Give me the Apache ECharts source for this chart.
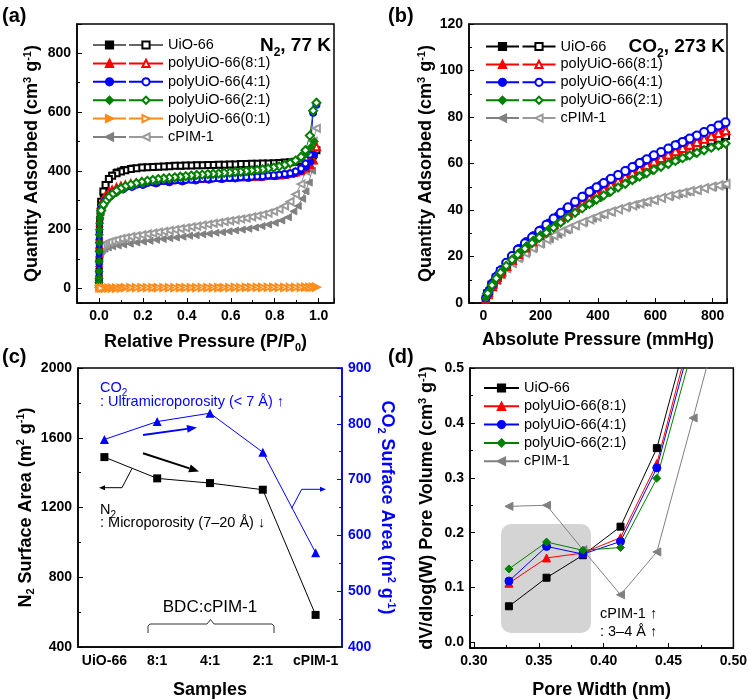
<!DOCTYPE html>
<html>
<head>
<meta charset="utf-8">
<script src="https://cdn.jsdelivr.net/npm/echarts@6/dist/echarts.min.js"></script>
<style>html,body{margin:0;padding:0;background:#fff}#main{width:750px;height:700px}</style>
</head>
<body>
<div id="main"></div>
<script>
var FONT = 'Arial, "Liberation Sans", sans-serif';

// (a) N2 isotherms, 77 K
var pAds = [0.00001, 0.00003, 0.00006, 0.0001, 0.0002, 0.0004, 0.0007, 0.001, 0.0015, 0.002,
  0.003, 0.005, 0.008, 0.012, 0.02, 0.03, 0.045, 0.06, 0.08, 0.11,
  0.15, 0.2, 0.26, 0.32, 0.38, 0.44, 0.5, 0.56, 0.62, 0.68,
  0.74, 0.8, 0.85, 0.89, 0.92, 0.945, 0.965, 0.98];
var pAdsPim = [0.00001, 0.00003, 0.0001, 0.0003, 0.001, 0.002, 0.004, 0.008, 0.015, 0.025,
  0.04, 0.06, 0.085, 0.11, 0.14, 0.17, 0.2, 0.23, 0.26, 0.29,
  0.32, 0.35, 0.38, 0.41, 0.44, 0.47, 0.5, 0.53, 0.56, 0.59,
  0.62, 0.65, 0.68, 0.71, 0.74, 0.77, 0.8, 0.83, 0.86, 0.885,
  0.905, 0.925, 0.94, 0.955, 0.97];
var pDes = [0.99, 0.975, 0.96, 0.94, 0.92, 0.895, 0.87, 0.845, 0.82, 0.795,
  0.77, 0.745, 0.72, 0.695, 0.67, 0.645, 0.62, 0.595, 0.57, 0.545,
  0.52, 0.495, 0.47, 0.445, 0.42, 0.395, 0.37, 0.345, 0.32, 0.295,
  0.27, 0.245, 0.22, 0.195, 0.17, 0.145, 0.12, 0.1, 0.08, 0.06,
  0.045, 0.03, 0.02, 0.01];
var n2UioAds = [3, 10, 20, 35, 60, 95, 130, 160, 190, 210, 235, 258, 275, 292, 320, 345, 370, 385, 396, 404,
  409, 412, 414, 416, 417, 418, 419, 420, 421, 422, 423, 425, 427, 430, 434, 440, 447, 455];
var n2P81Ads = [2, 8, 17, 30, 52, 85, 118, 148, 176, 196, 222, 244, 260, 272, 290, 305, 318, 326, 334, 342,
  349, 355, 360, 364, 367, 370, 372, 374, 376, 378, 380, 383, 387, 392, 398, 408, 420, 435];
var n2P41Ads = [2, 8, 16, 28, 50, 82, 115, 145, 172, 192, 218, 240, 256, 268, 285, 298, 310, 318, 326, 335,
  343, 350, 355, 359, 362, 365, 368, 370, 372, 374, 377, 380, 384, 390, 398, 412, 430, 455];
var n2P21Ads = [3, 10, 20, 34, 58, 92, 126, 155, 182, 200, 222, 240, 254, 266, 280, 292, 305, 315, 325, 337,
  348, 357, 365, 372, 378, 383, 388, 392, 396, 401, 406, 412, 420, 430, 442, 458, 480, 500];
var n2P01Ads = [0, 0, 0, 0, 1, 1, 1, 1, 1, 1, 1, 1, 1, 1, 1, 1, 1, 2, 2, 2,
  2, 2, 2, 2, 2, 2, 2, 2, 2, 3, 3, 3, 3, 3, 3, 3, 3, 4];
var n2PimAds = [5, 15, 35, 60, 90, 106, 117, 125, 131, 135, 139, 143, 146, 149, 152, 156, 159, 162, 165, 168,
  171, 173, 176, 179, 181, 184, 186, 189, 191, 194, 197, 200, 203, 207, 212, 217, 223, 231, 242, 262,
  280, 305, 330, 360, 400];
var n2UioDes = [470, 452, 444, 438, 434, 431, 429, 428, 427, 426, 425, 425, 424, 424, 423, 423, 422, 422, 421, 421,
  420, 420, 419, 419, 418, 418, 417, 417, 416, 415, 414, 413, 412, 411, 409, 406, 402, 398, 392, 383,
  372, 352, 330, 295];
var n2P81Des = [482, 460, 440, 420, 405, 396, 391, 388, 386, 385, 384, 383, 382, 381, 380, 380, 379, 378, 378, 377,
  377, 376, 375, 375, 374, 373, 372, 371, 370, 369, 368, 366, 364, 362, 359, 356, 352, 348, 343, 335,
  327, 315, 303, 285];
var n2P41Des = [625, 598, 455, 425, 408, 398, 392, 389, 387, 385, 384, 382, 381, 380, 379, 378, 377, 376, 376, 375,
  374, 373, 372, 371, 370, 369, 368, 367, 366, 365, 363, 361, 359, 356, 353, 349, 344, 339, 332, 322,
  312, 298, 287, 270];
var n2P21Des = [632, 605, 520, 470, 448, 435, 426, 420, 415, 411, 408, 405, 403, 401, 399, 397, 396, 394, 393, 391,
  390, 389, 387, 386, 384, 382, 380, 378, 376, 374, 372, 369, 366, 362, 358, 353, 347, 340, 332, 320,
  310, 296, 285, 265];
var n2P01Des = [4, 4, 3, 4, 3, 3, 3, 3, 3, 3, 3, 3, 3, 3, 3, 2, 3, 2, 2, 2,
  2, 2, 2, 2, 2, 2, 2, 2, 2, 2, 2, 2, 2, 2, 2, 2, 2, 1, 1, 1,
  1, 1, 1, 1];
var n2PimDes = [545, 500, 455, 400, 355, 320, 295, 281, 270, 262, 256, 251, 247, 243, 239, 236, 233, 230, 227, 224,
  221, 218, 215, 212, 209, 206, 203, 200, 197, 194, 191, 188, 185, 182, 179, 176, 172, 169, 165, 161,
  157, 153, 149, 143];

// (b) CO2 isotherms, 273 K
var pCo2Ads = [8, 20, 35, 50, 65, 80, 100, 125, 150, 175, 200, 230, 260, 290, 320, 350,
  380, 410, 440, 470, 500, 530, 560, 590, 620, 650, 680, 710, 740, 770, 800, 830];
var pCo2Des = [845, 820, 795, 770, 745, 720, 695, 670, 645, 620, 595, 570, 545, 520, 495, 470, 445, 420,
  395, 370, 345, 320, 295, 270, 245, 220, 195, 170, 145, 120, 100, 80, 60, 45, 30, 15];
var co2UioAds = [1.9, 5, 8.5, 11.5, 14, 16.3, 19, 22.3, 25.2, 27.7, 30, 32.7, 35.3, 37.7, 40, 42.3,
  44.5, 46.7, 48.9, 51, 53, 55, 57, 58.9, 60.7, 62.4, 64, 65.5, 67, 68.5, 70, 71.4];
var co2P81Ads = [1.6, 4.5, 8, 11, 13.5, 15.8, 18.5, 22, 25, 27.6, 30, 32.9, 35.6, 38.2, 40.7, 43.1,
  45.4, 47.8, 50, 52.3, 54.5, 56.5, 58.5, 60.4, 62.2, 64, 65.8, 67.5, 69, 70.6, 72, 73.5];
var co2P41Ads = [2.1, 5.5, 9, 12, 14.5, 17, 20, 23.5, 26.5, 29, 31.5, 34.5, 37.5, 40.5, 43.3, 46,
  48.5, 50.8, 53, 55, 57, 59, 61, 63, 64.8, 66.6, 68.4, 70.1, 71.8, 73.4, 75, 76.7];
var co2P21Ads = [2, 5.2, 8.6, 11.5, 13.8, 16, 18.5, 21.8, 24.7, 27.2, 29.5, 32.1, 34.5, 36.8, 39, 41.1,
  43.1, 45.2, 47.3, 49.4, 51.5, 53.4, 55.2, 57, 58.6, 60.1, 61.6, 63, 64.4, 65.7, 67, 68.1];
var co2PimAds = [2, 5, 8.2, 11, 12.9, 14.7, 17, 19.6, 21.8, 23.7, 25.5, 27.6, 29.5, 31.4, 33.1, 34.8,
  36.4, 38, 39.2, 40.4, 41.5, 42.4, 43.3, 44.2, 45.1, 46, 46.9, 47.8, 48.5, 49.2, 50, 50.7];
var co2UioDes = [72, 70.9, 69.8, 68.6, 67.3, 66.1, 64.8, 63.4, 62, 60.6, 59.2, 57.7, 56.1, 54.5, 52.8, 51.1, 49.3, 47.5,
  45.7, 43.8, 41.9, 39.9, 37.9, 35.8, 33.6, 31.4, 29, 26.5, 24, 21.3, 19.1, 16.5, 13.4, 10.8, 7.7, 4];
var co2P81Des = [74.3, 73.1, 71.8, 70.6, 69.3, 68.1, 66.7, 65.3, 63.9, 62.4, 60.9, 59.3, 57.7, 56, 54.3, 52.6, 50.8, 48.9,
  47, 45, 42.9, 40.9, 38.7, 36.4, 34, 31.6, 29.2, 26.6, 23.9, 21.1, 18.6, 15.9, 12.8, 10.2, 7.2, 3.8];
var co2P41Des = [77.7, 76.3, 74.8, 73.5, 72, 70.7, 69.3, 67.9, 66.4, 65, 63.5, 61.8, 60.2, 58.5, 56.8, 55.1, 53.4, 51.6,
  49.8, 47.8, 45.7, 43.5, 41.2, 38.8, 36.3, 33.7, 31, 28.3, 25.7, 22.9, 20.2, 17.3, 14, 11.2, 8, 4.2];
var co2P21Des = [68.6, 67.7, 66.8, 65.7, 64.6, 63.5, 62.3, 61.1, 59.8, 58.6, 57.3, 55.9, 54.4, 52.9, 51.3, 49.7, 48, 46.3,
  44.5, 42.6, 40.7, 38.8, 36.7, 34.6, 32.4, 30.2, 28.1, 25.8, 23.4, 20.8, 18.6, 16, 13.1, 10.6, 7.6, 4.2];
var co2PimDes = [51.2, 50.6, 50, 49.4, 48.7, 48.1, 47.4, 46.7, 46, 45.2, 44.4, 43.6, 42.8, 42, 41.2, 40.3, 39.3, 38.3,
  37.2, 36, 34.8, 33.5, 32.1, 30.7, 29.1, 27.4, 25.6, 23.7, 21.6, 19.4, 17.3, 15, 12.4, 10.1, 7.3, 4];

// (c) surface areas
var samples = ['UiO-66', '8:1', '4:1', '2:1', 'cPIM-1'];
var n2Area = [1489, 1367, 1340, 1302, 584];
var co2Area = [772, 804, 819, 749, 569];

// (d) pore size distribution
var poreW = [0.327, 0.356, 0.384, 0.413, 0.441, 0.469, 0.498];
var psdUio = [0.066, 0.118, 0.159, 0.211, 0.354, 0.60];
var psdP81 = [0.108, 0.154, 0.163, 0.191, 0.326, 0.58];
var psdP41 = [0.112, 0.175, 0.161, 0.184, 0.318, 0.565];
var psdP21 = [0.134, 0.183, 0.168, 0.173, 0.299, 0.54];
var psdPim = [0.248, 0.250, 0.169, 0.087, 0.165, 0.409, 0.667];

var names = ['UiO-66', 'polyUiO-66(8:1)', 'polyUiO-66(4:1)', 'polyUiO-66(2:1)', 'polyUiO-66(0:1)', 'cPIM-1'];
var bNames = ['UiO-66', 'polyUiO-66(8:1)', 'polyUiO-66(4:1)', 'polyUiO-66(2:1)', 'cPIM-1'];

var chart = echarts.init(document.getElementById('main'));

function ser(id, xs, ys, ax, sym, color, lineColor, size, rot) {
  var ai = typeof ax === 'number' ? [ax, ax] : ax;
  return {
    name: id, type: 'line', xAxisIndex: ai[0], yAxisIndex: ai[1],
    data: xs.slice(0, ys.length).map(function (x, i) { return [x, ys[i]]; }),
    symbol: sym, symbolSize: size, symbolRotate: rot || 0, showAllSymbol: true,
    itemStyle: {color: color, borderColor: color, borderWidth: 1},
    lineStyle: {color: lineColor, width: 1},
    emphasis: {disabled: true}, animation: false
  };
}
function lab(n) { return n.split('|')[1]; }

function rich(size, color, weight) {
  var s = Math.round(size * 0.62);
  function st(fs, pad) {
    return {fontSize: fs, lineHeight: fs, fontWeight: weight, color: color, fontFamily: FONT,
      verticalAlign: 'top', padding: [pad, 0, 0, 0]};
  }
  return {m: st(size, 4), p: st(s, 3), s: st(s, 4 + 0.52 * size)};
}

var tickLab = {fontWeight: 'bold', fontSize: 14, color: '#000', fontFamily: FONT};
function mult(step, dec) {
  return function (v) {
    var k = v / step;
    return Math.abs(k - Math.round(k)) < 1e-6 ? v.toFixed(dec) : '';
  };
}
function valAxis(gi, min, max, opt) {
  var a = {
    gridIndex: gi, type: 'value', min: min, max: max,
    nameLocation: 'middle',
    nameTextStyle: {rich: rich(18, opt.color || '#000', 'bold')},
    axisLine: {show: true, onZero: false, lineStyle: {color: opt.color || '#000', width: 1.5}},
    axisTick: {show: true, inside: true, length: 5},
    minorTick: {show: true, splitNumber: 2, length: 3},
    splitLine: {show: false},
    axisLabel: Object.assign({}, tickLab, {margin: 6, color: opt.color || '#000'})
  };
  for (var k in opt) {
    if (k === 'label') Object.assign(a.axisLabel, opt.label);
    else if (k !== 'color') a[k] = opt[k];
  }
  return a;
}

var gridBase = {show: true, borderColor: '#000', borderWidth: 1.5, backgroundColor: 'transparent'};

var xAxes = [
  valAxis(0, -0.1, 1.07, {splitNumber: 6, name: '{m|Relative Pressure (P/P}{s|0}{m|)}', nameGap: 26,
    label: {formatter: mult(0.2, 1)}}),
  valAxis(1, -50, 850, {splitNumber: 4, name: '{m|Absolute Pressure (mmHg)}', nameGap: 24,
    label: {formatter: mult(200, 0)}}),
  {gridIndex: 2, type: 'category', data: samples, boundaryGap: true,
    name: '{m|Samples}', nameLocation: 'middle', nameGap: 30,
    nameTextStyle: {rich: rich(18, '#000', 'bold')},
    axisLine: {lineStyle: {color: '#000', width: 1.5}},
    axisTick: {inside: true, alignWithLabel: true, length: 5},
    axisLabel: Object.assign({}, tickLab, {margin: 7, interval: 0})},
  valAxis(3, 0.297, 0.5, {splitNumber: 4, name: '{m|Pore Width (nm)}', nameGap: 29,
    label: {formatter: mult(0.05, 2)}})
];
var yAxes = [
  valAxis(0, -50, 900, {splitNumber: 5, name: '{m|Quantity Adsorbed (cm}{p|3}{m| g}{p|-1}{m|)}', nameGap: 40,
    label: {formatter: mult(200, 0)}}),
  valAxis(1, 0, 120, {interval: 20, name: '{m|Quantity Adsorbed (cm}{p|3}{m| g}{p|-1}{m|)}', nameGap: 38}),
  valAxis(2, 400, 2000, {interval: 400, name: '{m|N}{s|2}{m| Surface Area (m}{p|2}{m| g}{p|-1}{m|)}', nameGap: 38,
    label: {formatter: function (v) { return String(v); }}}),
  valAxis(2, 400, 900, {interval: 100, position: 'right', color: '#0000ff', nameRotate: -90,
    name: '{m|CO}{s|2}{m| Surface Area (m}{p|2}{m| g}{p|-1}{m|)}', nameGap: 36}),
  valAxis(3, -0.01, 0.5, {splitNumber: 5, name: '{m|dV/dlog(W) Pore Volume (cm}{p|3}{m| g}{p|-1}{m|)}', nameGap: 38,
    label: {formatter: mult(0.1, 1)}})
];

var series = [
  // (a) cPIM-1 first so the MOF points sit over it near P/P0 = 0
  ser('a|cPIM-1|f', pAdsPim, n2PimAds, 0, 'triangle', '#808080', '#808080', 7, 90),
  ser('a|cPIM-1|o', pDes, n2PimDes, 0, 'emptyTriangle', '#9a9a9a', '#9a9a9a', 7, 90),
  ser('a|UiO-66|f', pAds, n2UioAds, 0, 'rect', '#000', '#666', 6),
  ser('a|UiO-66|o', pDes, n2UioDes, 0, 'emptyRect', '#000', '#666', 6),
  ser('a|polyUiO-66(8:1)|f', pAds, n2P81Ads, 0, 'triangle', '#ff0000', '#ff0000', 7),
  ser('a|polyUiO-66(8:1)|o', pDes, n2P81Des, 0, 'emptyTriangle', '#ff0000', '#ff0000', 7),
  ser('a|polyUiO-66(4:1)|f', pAds, n2P41Ads, 0, 'circle', '#0000ff', '#0000ff', 6),
  ser('a|polyUiO-66(4:1)|o', pDes, n2P41Des, 0, 'emptyCircle', '#0000ff', '#0000ff', 6),
  ser('a|polyUiO-66(2:1)|f', pAds, n2P21Ads, 0, 'diamond', '#008000', '#008000', 8),
  ser('a|polyUiO-66(2:1)|o', pDes, n2P21Des, 0, 'emptyDiamond', '#008000', '#008000', 8),
  ser('a|polyUiO-66(0:1)|f', pAds, n2P01Ads, 0, 'triangle', '#ff8c1a', '#ff8c1a', 7, -90),
  ser('a|polyUiO-66(0:1)|o', pDes, n2P01Des, 0, 'emptyTriangle', '#ff8c1a', '#ff8c1a', 7, -90),
  // (b)
  ser('b|cPIM-1|f', pCo2Ads, co2PimAds, 1, 'triangle', '#808080', '#808080', 8, 90),
  ser('b|cPIM-1|o', pCo2Des, co2PimDes, 1, 'emptyTriangle', '#9a9a9a', '#9a9a9a', 8, 90),
  ser('b|UiO-66|f', pCo2Ads, co2UioAds, 1, 'rect', '#000', '#000', 7),
  ser('b|UiO-66|o', pCo2Des, co2UioDes, 1, 'emptyRect', '#000', '#000', 7),
  ser('b|polyUiO-66(8:1)|f', pCo2Ads, co2P81Ads, 1, 'triangle', '#ff0000', '#ff0000', 8),
  ser('b|polyUiO-66(8:1)|o', pCo2Des, co2P81Des, 1, 'emptyTriangle', '#ff0000', '#ff0000', 8),
  ser('b|polyUiO-66(4:1)|f', pCo2Ads, co2P41Ads, 1, 'circle', '#0000ff', '#0000ff', 8),
  ser('b|polyUiO-66(4:1)|o', pCo2Des, co2P41Des, 1, 'emptyCircle', '#0000ff', '#0000ff', 8),
  ser('b|polyUiO-66(2:1)|f', pCo2Ads, co2P21Ads, 1, 'diamond', '#008000', '#008000', 8),
  ser('b|polyUiO-66(2:1)|o', pCo2Des, co2P21Des, 1, 'emptyDiamond', '#008000', '#008000', 8),
  // (c)
  {name: 'c|N2', type: 'line', xAxisIndex: 2, yAxisIndex: 2, data: n2Area, symbol: 'rect', symbolSize: 8,
    itemStyle: {color: '#000'}, lineStyle: {color: '#000', width: 1}, animation: false},
  {name: 'c|CO2', type: 'line', xAxisIndex: 2, yAxisIndex: 3, data: co2Area, symbol: 'triangle', symbolSize: 9,
    itemStyle: {color: '#0000ff'}, lineStyle: {color: '#0000ff', width: 1}, animation: false},
  // (d)
  ser('d|cPIM-1', poreW, psdPim, [3, 4], 'triangle', '#808080', '#808080', 8, 90),
  ser('d|UiO-66', poreW, psdUio, [3, 4], 'rect', '#000', '#000', 7),
  ser('d|polyUiO-66(8:1)', poreW, psdP81, [3, 4], 'triangle', '#ff0000', '#ff0000', 8),
  ser('d|polyUiO-66(4:1)', poreW, psdP41, [3, 4], 'circle', '#0000ff', '#0000ff', 8),
  ser('d|polyUiO-66(2:1)', poreW, psdP21, [3, 4], 'diamond', '#008000', '#008000', 8)
];

function legendCol(prefix, list, suffix, left, top, w, gap, show) {
  return {
    data: list.map(function (n) { return prefix + '|' + n + suffix; }),
    orient: 'vertical', left: left, top: top, padding: 0,
    itemWidth: w, itemHeight: 9, itemGap: gap, selectedMode: false,
    formatter: lab,
    textStyle: {color: show ? '#000' : 'rgba(0,0,0,0)', fontSize: 14.5, lineHeight: 16, fontFamily: FONT}
  };
}
var legends = [
  legendCol('a', names, '|f', 92, 37, 33, 2.4, false),
  legendCol('a', names, '|o', 128, 37, 34, 2.4, true),
  legendCol('b', bNames, '|f', 485, 38.5, 33, 1.9, false),
  legendCol('b', bNames, '|o', 521.5, 38.5, 33, 1.9, true),
  legendCol('d', bNames, '', 483, 380, 35, 2.3, true)
];

function txt(x, y, text, size, color, weight, align, richStyle) {
  var st = {x: x, y: y, text: text, align: align || 'left', verticalAlign: 'middle',
    fontSize: size, fontWeight: weight || 'normal', fontFamily: FONT, fill: color};
  if (richStyle) st.rich = richStyle;
  return {type: 'text', z: 100, silent: true, style: st};
}
function arrow(x1, y1, x2, y2, color, w, hl, hw) {
  var dx = x2 - x1, dy = y2 - y1, L = Math.sqrt(dx * dx + dy * dy), ux = dx / L, uy = dy / L;
  var bx = x2 - ux * hl, by = y2 - uy * hl;
  return [
    {type: 'line', z: 100, silent: true, shape: {x1: x1, y1: y1, x2: bx, y2: by}, style: {stroke: color, lineWidth: w}},
    {type: 'polygon', z: 100, silent: true, shape: {points: [[x2, y2], [bx - uy * hw, by + ux * hw], [bx + uy * hw, by - ux * hw]]},
      style: {fill: color}}
  ];
}
function richReg(size, color) {
  return {
    m: {fontSize: size, lineHeight: size, color: color, fontFamily: FONT, verticalAlign: 'top', padding: [4, 0, 0, 0]},
    s: {fontSize: 10, lineHeight: 10, color: color, fontFamily: FONT, verticalAlign: 'top', padding: [11, 0, 0, 0]}
  };
}
function titleRich() {
  return {
    m: {fontSize: 19, lineHeight: 19, fontWeight: 'bold', color: '#000', fontFamily: FONT, verticalAlign: 'top', padding: [4, 0, 0, 0]},
    s: {fontSize: 12, lineHeight: 12, fontWeight: 'bold', color: '#000', fontFamily: FONT, verticalAlign: 'top', padding: [14, 0, 0, 0]}
  };
}

var graphics = [
  txt(2, 16, '(a)', 20, '#000', 'bold'),
  txt(388, 16, '(b)', 20, '#000', 'bold'),
  txt(2, 357, '(c)', 20, '#000', 'bold'),
  txt(388, 357, '(d)', 20, '#000', 'bold'),
  txt(331, 42, '{m|N}{s|2}{m|, 77 K}', 19, '#000', 'bold', 'right', titleRich()),
  txt(725, 43, '{m|CO}{s|2}{m|, 273 K}', 19, '#000', 'bold', 'right', titleRich()),
  // (c) notes
  txt(100, 384, '{m|CO}{s|2}', 14.5, '#0000ff', 'normal', 'left', richReg(14.5, '#0000ff')),
  txt(100, 402, ': Ultramicroporosity (< 7 Å) ↑', 14.5, '#0000ff'),
  txt(100, 506, '{m|N}{s|2}', 14.5, '#000', 'normal', 'left', richReg(14.5, '#000')),
  txt(100, 523, ': Microporosity (7–20 Å) ↓', 14.5, '#000'),
  txt(210, 607, 'BDC:cPIM-1', 17, '#000', 'normal', 'center'),
  {type: 'polyline', z: 100, silent: true,
    shape: {points: [[148, 633], [148, 626], [150, 624], [207, 624], [210.5, 619.5], [214, 624], [272, 624], [274, 626], [274, 633]]},
    style: {stroke: '#333', lineWidth: 1, fill: null}},
  {type: 'polyline', z: 100, silent: true, shape: {points: [[132, 468.5], [122, 487.7]]}, style: {stroke: '#000', lineWidth: 1, fill: null}},
  {type: 'polyline', z: 100, silent: true, shape: {points: [[291.7, 508.3], [301.7, 489.3]]}, style: {stroke: '#0000ff', lineWidth: 1, fill: null}},
  // (d) notes
  {type: 'rect', z: 0, silent: true, shape: {x: 501, y: 524, width: 90, height: 109, r: 10}, style: {fill: '#d4d4d4'}},
  txt(600, 614, 'cPIM-1 ↑', 14.5, '#000'),
  txt(600, 632, ': 3–4 Å ↑', 14.5, '#000')
];
graphics = graphics
  .concat(arrow(143, 435, 197, 427.5, '#0000ff', 2, 10, 4))
  .concat(arrow(143, 453.3, 199, 471.5, '#000', 2, 10, 4))
  .concat(arrow(122, 487.7, 99, 487.7, '#000', 1, 6, 2.5))
  .concat(arrow(301.7, 489.3, 326, 489.3, '#0000ff', 1, 6, 2.5));

var option = {
  animation: false,
  textStyle: {fontFamily: FONT},
  grid: [
    Object.assign({left: 77, top: 24, width: 257, height: 279}, gridBase),
    Object.assign({left: 469, top: 24, width: 258, height: 279}, gridBase),
    Object.assign({left: 78, top: 368, width: 264, height: 279}, gridBase),
    Object.assign({left: 470, top: 368, width: 265, height: 280}, gridBase)
  ],
  xAxis: xAxes,
  yAxis: yAxes,
  legend: legends,
  series: series,
  graphic: graphics
};
chart.setOption(option, true);
</script>
</body>
</html>
